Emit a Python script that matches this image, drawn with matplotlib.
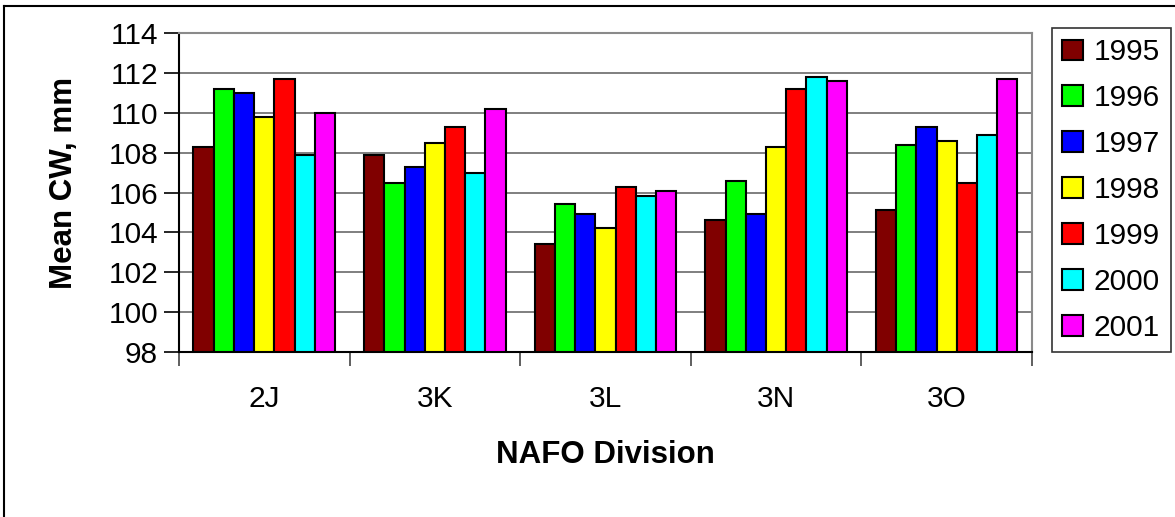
import numpy as np
import matplotlib
matplotlib.use('Agg')
import matplotlib.pyplot as plt
from matplotlib.lines import Line2D

# Mean carapace width by NAFO division and year
DIVISIONS = ['2J', '3K', '3L', '3N', '3O']
YEARS = ['1995', '1996', '1997', '1998', '1999', '2000', '2001']
COLORS = ['#800000', '#00FF00', '#0000FF', '#FFFF00', '#FF0000', '#00FFFF', '#FF00FF']

cw_1995 = [108.3, 107.9, 103.4, 104.6, 105.1]
cw_1996 = [111.2, 106.5, 105.4, 106.6, 108.4]
cw_1997 = [111.0, 107.3, 104.9, 104.9, 109.3]
cw_1998 = [109.8, 108.5, 104.2, 108.3, 108.6]
cw_1999 = [111.7, 109.3, 106.3, 111.2, 106.5]
cw_2000 = [107.9, 107.0, 105.8, 111.8, 108.9]
cw_2001 = [110.0, 110.2, 106.1, 111.6, 111.7]
SERIES = [cw_1995, cw_1996, cw_1997, cw_1998, cw_1999, cw_2000, cw_2001]

plt.rcParams['font.family'] = ['Liberation Sans', 'DejaVu Sans']
FS = 21.5
FS_LABEL = 22.5

figure = plt.figure(figsize=(11.75, 5.17), dpi=100)
ax = figure.add_axes([0.1523, 0.3191, 0.7260, 0.6171])

# Bars: 7 per division, centred in each category slot
width = 0.1185
centers = np.arange(len(DIVISIONS)) + 0.5
bars = []
for i, values in enumerate(SERIES):
    offs = (i - 3) * width
    b = ax.bar(centers + offs, np.array(values) - 98, width=width, bottom=98,
               color=COLORS[i], edgecolor='black', linewidth=1.5, zorder=3)
    bars.append(b)

ax.set_xlim(0, 5)
ax.set_ylim(98, 114)
ax.set_yticks(np.arange(98, 115, 2))
ax.grid(axis='y', color='#6a6a6a', linewidth=1.2, zorder=1)

# Category boundaries carry the ticks, labels sit at the centres
ax.set_xticks(np.arange(0, 6))
ax.set_xticklabels([])
ax.set_xticks(centers, minor=True)
ax.set_xticklabels(DIVISIONS, minor=True, fontsize=FS)
ax.tick_params(axis='x', which='major', direction='out', length=10, width=1.2, color='#444444')
ax.tick_params(axis='x', which='minor', length=0, pad=24)
ax.tick_params(axis='y', direction='out', length=11, width=1.2, labelsize=FS, pad=4)

for side in ['top', 'right']:
    ax.spines[side].set_color('#8a8a8a')
    ax.spines[side].set_linewidth(1.5)
for side in ['left', 'bottom']:
    ax.spines[side].set_color('black')
    ax.spines[side].set_linewidth(1.5)

ax.set_ylabel('Mean CW, mm', fontsize=FS_LABEL, fontweight='bold')
ax.yaxis.label.set_va('center')
ax.yaxis.set_label_coords(-0.1348, 0.531)
figure.text(0.5153, 1 - 455 / 517, 'NAFO Division', fontsize=FS_LABEL, fontweight='bold',
            ha='center', va='center')

leg = figure.legend(bars, YEARS, loc='upper left', bbox_to_anchor=(1052 / 1175, 1 - 28 / 517),
                    fontsize=FS, frameon=True, fancybox=False, edgecolor='black',
                    handlelength=0.7, handleheight=0.7, handletextpad=0.35,
                    labelspacing=0.6, borderpad=0.35, borderaxespad=0)
leg.get_frame().set_linewidth(1.2)

# Chart-area border (left and top edges)
figure.add_artist(Line2D([4 / 1175, 4 / 1175], [0, 1 - 6 / 517], color='black', linewidth=1.5))
figure.add_artist(Line2D([4 / 1175, 1], [1 - 6 / 517, 1 - 6 / 517], color='black', linewidth=1.5))

figure.savefig('out.png', dpi=100)
